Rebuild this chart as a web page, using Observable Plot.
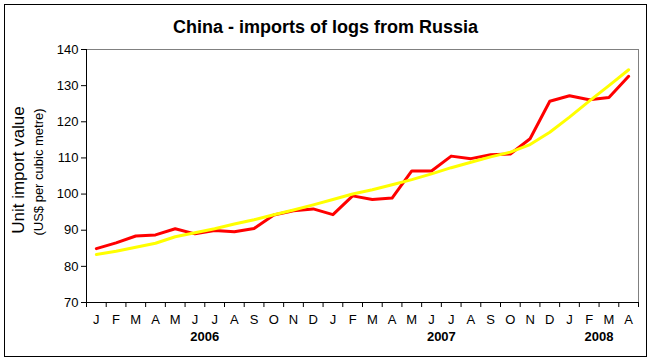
<!DOCTYPE html>
<html>
<head>
<meta charset="utf-8">
<script src="https://cdn.jsdelivr.net/npm/d3@7"></script>
<script src="https://cdn.jsdelivr.net/npm/@observablehq/plot@0.6"></script>
<style>
  html, body { margin: 0; padding: 0; background: #fff; }
  #wrap { position: relative; width: 651px; height: 361px; overflow: hidden; font-family: "Liberation Sans", Arial, sans-serif; }
  #border { position: absolute; left: 4px; top: 4px; width: 641px; height: 351px; border: 1px solid #000; pointer-events: none; }
  #title { position: absolute; left: 0; width: 651px; top: 17px; text-align: center; font-weight: bold; font-size: 18px; line-height: 20px; }
  #chart { position: absolute; left: 0; top: 0; }
</style>
</head>
<body>
<div id="wrap">
  <div id="chart"></div>
  <div id="title">China - imports of logs from Russia</div>
  <div id="border"></div>
</div>
<script>
const months = ["J","F","M","A","M","J","J","A","S","O","N","D",
                "J","F","M","A","M","J","J","A","S","O","N","D",
                "J","F","M","A"];
const years = ["2006", "2007", "2008"];
const yearStart = [0, 12, 24];
const yearLen = [12, 12, 4];
const unitValue = [84.9, 86.5, 88.4, 88.7, 90.4, 89.0, 89.9, 89.6, 90.5, 94.2, 95.4, 95.9,
                   94.3, 99.5, 98.5, 98.9, 106.4, 106.4, 110.5, 109.8, 110.9, 111.1, 115.3, 125.7,
                   127.2, 126.1, 126.7, 132.6];
const trend = [83.3, 84.2, 85.3, 86.4, 88.2, 89.3, 90.4, 91.7, 92.9, 94.3, 95.6, 97.0,
               98.5, 100.0, 101.2, 102.6, 104.0, 105.6, 107.3, 108.8, 110.3, 111.6, 113.7, 117.1,
               121.3, 125.7, 130.0, 134.4];
const yTicks = [70, 80, 90, 100, 110, 120, 130, 140];

const font = "Liberation Sans, Arial, sans-serif";
const pos = (d, i) => i + 0.5;

const chart = Plot.plot({
  width: 651,
  height: 361,
  marginLeft: 86,
  marginRight: 13,
  marginTop: 49,
  marginBottom: 59,
  style: { fontFamily: font, background: "white", overflow: "visible" },
  x: { domain: [0, 28], axis: null },
  y: { domain: [70, 140], axis: null },
  marks: [
    Plot.ruleY([140], { stroke: "#808080", strokeWidth: 1 }),
    Plot.ruleX([28], { stroke: "#808080", strokeWidth: 1 }),
    Plot.ruleX([0], { stroke: "#000", strokeWidth: 1 }),
    Plot.ruleY([70], { stroke: "#000", strokeWidth: 1 }),
    Plot.axisY({ ticks: yTicks, tickSize: 5, tickPadding: 3, fontSize: 13, stroke: "#000", strokeOpacity: 1, fill: "#000", label: null }),
    Plot.axisX({ ticks: d3.range(29), tickFormat: () => "", tickSize: 5, stroke: "#000", strokeOpacity: 1, label: null }),
    Plot.text(months, { x: pos, frameAnchor: "bottom", dy: 21, text: d => d, fontSize: 13, fill: "#000" }),
    Plot.text(years, { x: (d, i) => yearStart[i] + yearLen[i] / 2, frameAnchor: "bottom", dy: 38, text: d => d, fontSize: 13, fontWeight: "bold", fill: "#000" }),
    Plot.text(["Unit import value"], { frameAnchor: "left", textAnchor: "middle", dx: -68, dy: -6, rotate: -90, text: d => d, fontSize: 17, fill: "#000" }),
    Plot.text(["(US$ per cubic metre)"], { frameAnchor: "left", textAnchor: "middle", dx: -48, dy: -4, rotate: -90, text: d => d, fontSize: 13, fill: "#000" }),
    Plot.line(unitValue, { x: pos, y: d => d, stroke: "#ff0000", strokeWidth: 3, strokeLinejoin: "round" }),
    Plot.line(trend, { x: pos, y: d => d, stroke: "#ffff00", strokeWidth: 3, strokeLinejoin: "round" })
  ]
});
document.getElementById("chart").appendChild(chart);
</script>
</body>
</html>
